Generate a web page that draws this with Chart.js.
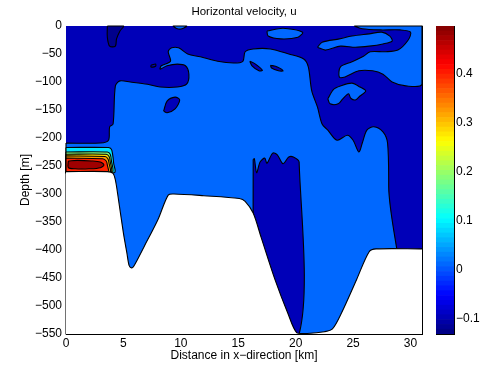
<!DOCTYPE html>
<html lang="en">
<head>
<meta charset="utf-8" />
<title>Horizontal velocity, u</title>
<script src="https://cdn.jsdelivr.net/npm/chart.js@4.4.1/dist/chart.umd.min.js"></script>
<style>
  body { margin: 0; background: #fff; }
  .wrap { position: relative; width: 486px; height: 368px; }
  .wrap canvas { position: absolute; left: 0; top: 0; }
</style>
</head>
<body>
<div class="wrap">
  <canvas id="section" width="486" height="368"></canvas>
  <canvas id="colorbar" width="486" height="368"></canvas>
</div>
<script>
const FONT = "'Liberation Sans', Arial, Helvetica, sans-serif";

// axis limits and tick steps
const kmRange = [0, 31];
const depthRange = [-550, 0];
const kmStep = 5;
const depthStep = 50;
const uRange = [-0.131, 0.498];
const uStep = 0.1;

// fill colours of the contour levels
const DARK = '#0000b8';
const NAVY = '#00008c';
const LIGHT = '#0068ff';
const WHITE = '#ffffff';

// lowest level, fills the whole section
const baseKm = [0, 31];
const baseDepth = [-550, -550];

// strongest negative flow near the surface
const navyKm = [3.6, 5.0, 4.7, 4.4, 4.3, 3.8, 3.6, 3.6];
const navyDepth = [0, 0, -9, -23, -36, -36, -20, 0];

// u > 0 contour, main body
const bodyKm = [0, 3.0, 3.7, 3.8, 4.1, 4.3, 4.7, 5.6, 7.1, 8.2, 9.7, 10.5, 10.7, 10.4, 9.7, 8.8, 8.2, 8.3, 9.1, 8.9, 9.2, 9.8, 10.6, 11.7, 13.2, 14.6, 15.4, 15.6, 16.3, 17.8, 19.4, 20.7, 21.1, 21.4, 21.9, 22.3, 22.8, 23.6, 24.5, 25.0, 25.5, 25.8, 26.2, 26.8, 27.6, 28.0, 28.1, 28.1, 0, 0];
const bodyDepth = [-209, -209, -204, -180, -175, -107, -98, -100, -104, -109, -109, -104, -86, -71, -68, -71, -77, -71, -63, -46, -39, -39, -50, -55, -63, -66, -63, -46, -41, -41, -50, -59, -73, -116, -145, -175, -186, -204, -195, -204, -225, -209, -186, -180, -189, -209, -287, -550, -550, -209];

// u > 0 contour, upper right corner
const cornerKm = [25.1, 31, 31, 29.6, 28.4, 27.6, 26.7, 25.5, 24.3, 23.8, 23.9, 24.9, 25.9, 26.5, 27.8, 28.9, 29.8, 30.0, 29.1, 27.4, 25.8, 25.1];
const cornerDepth = [0, 0, -104, -107, -100, -86, -80, -80, -91, -91, -73, -64, -54, -46, -46, -43, -25, -11, -7, -7, -5, 0];

// u > 0 patches in the upper layer
const streakKm = [21.9, 22.3, 23.8, 24.9, 26.4, 27.5, 28.2, 28.4, 27.6, 26.4, 25.2, 23.9, 22.6, 21.9];
const streakDepth = [-38, -29, -23, -18, -14, -11, -18, -27, -32, -36, -38, -36, -43, -38];
const lensKm = [17.5, 18.9, 20.6, 20.2, 18.7, 17.6, 17.5];
const lensDepth = [-9, -4, -11, -20, -23, -18, -9];
const lobeKm = [22.8, 23.3, 23.9, 24.9, 25.6, 26.1, 25.6, 25.2, 24.8, 24.6, 24.1, 23.7, 23.0, 22.8];
const lobeDepth = [-130, -113, -107, -102, -109, -116, -125, -132, -129, -121, -130, -139, -139, -130];
const capKm = [9.3, 10.5, 10.1, 9.7, 9.3];
const capDepth = [0, 0, -5, -5, 0];

// u < 0 pockets inside the positive body
const pocketAKm = [16.0, 16.5, 17.1, 16.8, 16.2, 16.0];
const pocketADepth = [-63, -68, -79, -80, -71, -63];
const pocketBKm = [17.8, 18.4, 18.9, 18.5, 17.9, 17.8];
const pocketBDepth = [-70, -73, -80, -80, -75, -70];
const pocketCKm = [8.5, 8.8, 9.5, 9.9, 9.5, 8.8, 8.5];
const pocketCDepth = [-152, -134, -127, -132, -148, -155, -152];
const pocketDKm = [7.4, 7.8, 7.8, 7.4, 7.4];
const pocketDDepth = [-70, -68, -72, -73, -70];
const ridgeKm = [16.3, 16.3, 16.4, 16.6, 16.9, 17.3, 17.5, 18.0, 18.4, 18.9, 19.4, 19.8, 20.3, 20.3, 16.3];
const ridgeDepth = [-550, -239, -237, -262, -243, -236, -245, -227, -230, -246, -234, -234, -243, -550, -550];

// inflow jet at the left boundary, one outline per level
const jetLevels = [
  { colour: '#00e4ff', km: [0, 3.7, 3.95, 4.05, 4.15, 4.2, 0, 0], depth: [-217, -217, -220, -228, -245, -262, -262, -217] },
  { colour: '#80ff80', km: [0, 3.6, 3.85, 3.95, 4.0, 0, 0], depth: [-225, -225, -229, -240, -262, -262, -225] },
  { colour: '#ffe000', km: [0, 3.5, 3.75, 3.85, 3.9, 0, 0], depth: [-229, -229, -233, -242, -262, -262, -229] },
  { colour: '#ff9a00', km: [0, 3.4, 3.65, 3.75, 3.8, 0, 0], depth: [-232, -233, -237, -245, -262, -262, -232] },
  { colour: '#ff2400', km: [0, 3.2, 3.5, 3.6, 3.65, 0, 0], depth: [-236, -237, -241, -248, -262, -262, -236] },
  { colour: '#a00000', km: [0.2, 1.0, 2.2, 3.0, 3.3, 3.0, 2.0, 0.8, 0.2, 0.2], depth: [-241, -240, -241, -243, -248, -253, -255, -255, -253, -241] },
];

// sea bed
const bedKm = [0, 3.6, 4.1, 4.3, 4.5, 5.0, 5.3, 5.5, 5.7, 5.9, 6.8, 8.0, 8.9, 9.4, 12, 15.1, 15.6, 16.3, 17.0, 18.2, 19.3, 20.1, 21.0, 22.5, 23.2, 24.0, 25.3, 26.4, 27.0, 31];
const bedDepth = [-260, -260, -263, -275, -300, -370, -405, -428, -432, -429, -394, -346, -302, -300, -303, -308, -313, -334, -378, -453, -512, -548, -549, -546, -541, -512, -453, -403, -398, -398];

function outline(km, depth, colour, fillMode, edge) {
  return {
    data: km.map((x, i) => ({ x: x, y: depth[i] })),
    backgroundColor: colour,
    borderColor: '#000',
    borderWidth: edge === undefined ? 1.1 : edge,
    fill: fillMode || 'shape',
    pointRadius: 0,
    tension: 0.3,
    clip: false,
  };
}

// bottom layer first, reversed below so the sea bed ends up on top
const layers = [
  outline(baseKm, baseDepth, DARK, 'end', 0),
  outline(navyKm, navyDepth, NAVY),
  outline(bodyKm, bodyDepth, LIGHT),
  outline(cornerKm, cornerDepth, LIGHT),
  outline(streakKm, streakDepth, LIGHT),
  outline(lensKm, lensDepth, LIGHT),
  outline(lobeKm, lobeDepth, LIGHT),
  outline(capKm, capDepth, LIGHT),
  outline(pocketAKm, pocketADepth, DARK),
  outline(pocketBKm, pocketBDepth, DARK),
  outline(pocketCKm, pocketCDepth, DARK),
  outline(pocketDKm, pocketDDepth, DARK),
  outline(ridgeKm, ridgeDepth, DARK),
];
jetLevels.forEach(l => layers.push(outline(l.km, l.depth, l.colour)));
layers.push(outline(bedKm, bedDepth, WHITE, 'start', 1.1));

const minus = v => (v < 0 ? '\u2212' : '') + Math.abs(v);
const tickFont = { family: FONT, size: 12 };

function boxAxis(position, range, step, size, extra) {
  const horizontal = position === 'top' || position === 'bottom';
  return Object.assign({
    type: 'linear',
    position: position,
    min: range[0],
    max: range[1],
    z: 1,
    ticks: { display: false, stepSize: step, includeBounds: false },
    grid: { drawOnChartArea: false, drawTicks: true, tickLength: -4, color: '#000', lineWidth: 1 },
    border: { display: true, color: '#000', width: 1 },
    afterFit: s => { if (horizontal) s.height = size; else s.width = size; },
  }, extra || {});
}

new Chart(document.getElementById('section'), {
  type: 'line',
  data: { datasets: layers.reverse() },
  options: {
    responsive: false,
    animation: false,
    events: [],
    layout: { padding: { left: 0, right: 64, top: 0, bottom: 0 } },
    plugins: {
      legend: { display: false },
      tooltip: { enabled: false },
    },
    scales: {
      x: boxAxis('bottom', kmRange, kmStep, 34, {
        ticks: { display: true, stepSize: kmStep, includeBounds: false, color: '#000', font: tickFont, padding: 6, maxRotation: 0, callback: minus },
        title: { display: true, text: 'Distance in x\u2212direction [km]', color: '#000', font: tickFont, padding: { bottom: 4.8 } },
      }),
      y: boxAxis('left', depthRange, depthStep, 66, {
        ticks: { display: true, stepSize: depthStep, includeBounds: false, color: '#000', font: tickFont, padding: 8, callback: minus },
        title: { display: true, text: 'Depth [m]', color: '#000', font: tickFont, padding: { top: 18 } },
      }),
      // the plot title sits on the top axis so it is centred over the plot box
      xTop: boxAxis('top', kmRange, kmStep, 26, {
        title: { display: true, text: 'Horizontal velocity, u', color: '#000', font: { family: FONT, size: 11.5 }, padding: { top: 5 } },
      }),
      yRight: boxAxis('right', depthRange, depthStep, 0),
    },
  },
});

// jet colour map for the colour bar
function jet(t) {
  const c = v => Math.round(255 * Math.max(0, Math.min(1, 1.5 - Math.abs(v))));
  return 'rgb(' + c(4 * t - 3) + ',' + c(4 * t - 2) + ',' + c(4 * t - 1) + ')';
}
const bands = [];
const nBands = 64;
for (let i = 0; i < nBands; i++) {
  const lo = uRange[0] + (uRange[1] - uRange[0]) * i / nBands;
  const hi = uRange[0] + (uRange[1] - uRange[0]) * (i + 1) / nBands;
  bands.push({
    data: [[lo, hi]],
    backgroundColor: jet((i + 0.5) / nBands),
    borderWidth: 0,
    grouped: false,
    barPercentage: 1,
    categoryPercentage: 1,
  });
}

const uLabel = v => (Math.abs(v) < 1e-9 ? '0' : (v < 0 ? '\u2212' : '') + Math.abs(v).toFixed(1));

new Chart(document.getElementById('colorbar'), {
  type: 'bar',
  data: { labels: ['u'], datasets: bands },
  options: {
    responsive: false,
    animation: false,
    events: [],
    layout: { padding: { left: 436, right: 0, top: 26, bottom: 34 } },
    plugins: { legend: { display: false }, tooltip: { enabled: false } },
    scales: {
      x: {
        type: 'category',
        position: 'bottom',
        z: 1,
        ticks: { display: false },
        grid: { display: false },
        border: { display: true, color: '#000', width: 1 },
        afterFit: s => { s.height = 0; },
      },
      xTop: {
        type: 'category',
        position: 'top',
        z: 1,
        ticks: { display: false },
        grid: { display: false },
        border: { display: true, color: '#000', width: 1 },
        afterFit: s => { s.height = 0; },
      },
      y: Object.assign(boxAxis('right', uRange, uStep, 32), {
        ticks: { display: true, stepSize: uStep, includeBounds: false, color: '#000', font: tickFont, padding: 6, callback: uLabel },
      }),
      yLeft: boxAxis('left', uRange, uStep, 0),
    },
  },
});
</script>
</body>
</html>
